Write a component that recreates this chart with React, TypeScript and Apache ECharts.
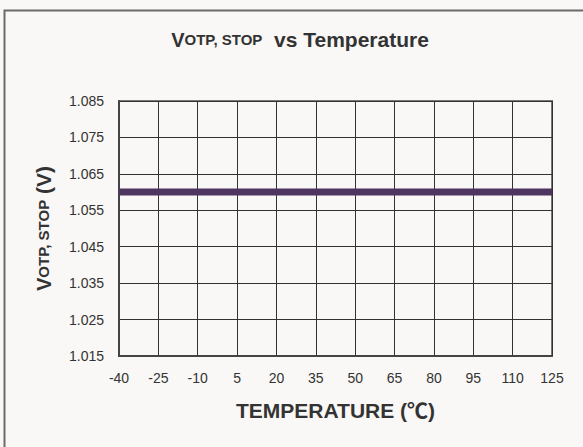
import React, { useEffect, useRef } from "react";
import * as echarts from "echarts";

const temperatures = ["-40", "-25", "-10", "5", "20", "35", "50", "65", "80", "95", "110", "125"];
const vOtpStop = [1.06, 1.06, 1.06, 1.06, 1.06, 1.06, 1.06, 1.06, 1.06, 1.06, 1.06, 1.06];
const yMin = 1.015;
const yMax = 1.085;
const yStep = 0.01;

export default function App() {
  const ref = useRef<HTMLDivElement>(null);
  useEffect(() => {
    if (!ref.current) return;
    const chart = echarts.init(ref.current, null, { renderer: "svg" });
    const font = "Liberation Sans, Arial, Noto Sans CJK SC, sans-serif";
    const rich = {
      v: { fontFamily: font, fontWeight: "bold", fontSize: 20, color: "#333" },
      big: { fontFamily: font, fontWeight: "bold", fontSize: 21, color: "#333" },
      small: { fontFamily: font, fontWeight: "bold", fontSize: 15, color: "#333" },
    };
    chart.setOption({
      animation: false,
      backgroundColor: "#f9f8f6",
      graphic: [
        {
          type: "rect",
          shape: { x: 4.5, y: 10.5, width: 700, height: 600 },
          style: { fill: "none", stroke: "#6a6a6a", lineWidth: 2 },
          silent: true,
        },
      ],
      title: {
        text: "{v|V}{small|OTP, STOP}{big|  vs Temperature}",
        left: 295,
        textAlign: "center",
        top: 24,
        textStyle: { rich },
      },
      grid: {
        left: 119,
        right: 31,
        top: 101,
        bottom: 91,
        show: true,
        borderColor: "#777",
        borderWidth: 2,
      },
      xAxis: {
        type: "category",
        data: temperatures,
        boundaryGap: false,
        name: "TEMPERATURE (℃)",
        nameLocation: "middle",
        nameGap: 44,
        nameTextStyle: { fontFamily: font, fontWeight: "bold", fontSize: 21, color: "#333" },
        axisLine: { lineStyle: { color: "#444", width: 2 } },
        axisTick: { show: false },
        axisLabel: { fontFamily: font, fontSize: 14, color: "#333", margin: 15 },
        splitLine: { show: true, lineStyle: { color: "#333", width: 1 } },
      },
      yAxis: {
        type: "value",
        min: yMin,
        max: yMax,
        interval: yStep,
        name: "{v|V}{small|OTP, STOP}{big| (V)}",
        nameLocation: "middle",
        nameGap: 65,
        nameRotate: 90,
        nameTextStyle: { rich },
        axisLine: { show: true, lineStyle: { color: "#444", width: 2 } },
        axisTick: { show: false },
        axisLabel: {
          fontFamily: font,
          fontSize: 14,
          color: "#333",
          margin: 15,
          formatter: (v: number) => v.toFixed(3),
        },
        splitLine: { show: true, lineStyle: { color: "#333", width: 1 } },
      },
      series: [
        {
          type: "line",
          data: vOtpStop,
          symbol: "none",
          lineStyle: { color: "#4e3560", width: 7 },
        },
      ],
    });
    return () => chart.dispose();
  }, []);
  return (
    <div
      ref={ref}
      style={{ position: "absolute", left: 0, top: 0, width: 583, height: 447 }}
    />
  );
}
